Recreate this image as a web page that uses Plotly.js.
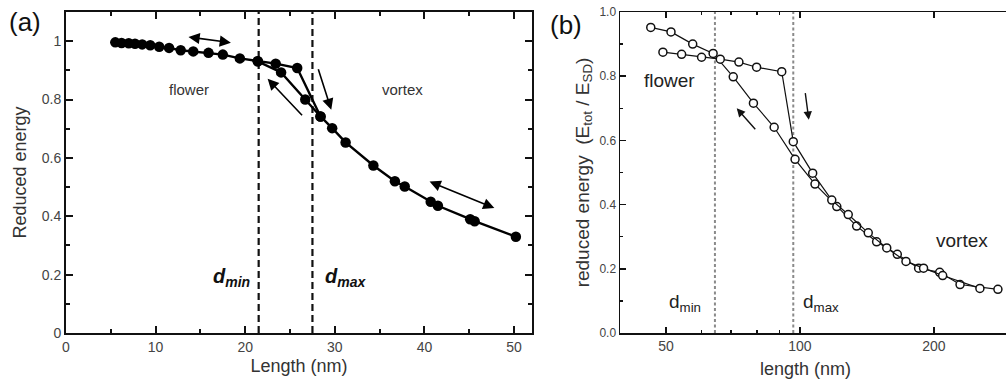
<!DOCTYPE html>
<html>
<head>
<meta charset="utf-8">
<script src="https://cdn.plot.ly/plotly-3.0.1.min.js"></script>
<style>
  html, body { margin: 0; padding: 0; background: #fff; }
  #chart { width: 1006px; height: 385px; }
</style>
</head>
<body>
<div id="chart"></div>
<script>
// ---- Panel (a): reduced energy vs particle length ----
// flower branch (increasing length), ends where it jumps onto the vortex curve
const flowerLenA = [5.5, 6.2, 7.0, 7.7, 8.5, 9.4, 10.4, 11.5, 12.8, 14.2, 15.9, 17.5, 19.4, 21.4, 23.4, 25.8, 28.4];
const flowerEnA  = [0.996, 0.994, 0.993, 0.991, 0.989, 0.986, 0.981, 0.977, 0.969, 0.965, 0.960, 0.954, 0.941, 0.931, 0.923, 0.908, 0.742];
// vortex branch (decreasing length), rejoins the flower curve at d_min
const vortexLenA = [21.4, 24.0, 26.7, 28.4, 29.7, 31.2, 34.3, 36.7, 37.8, 40.7, 41.5, 45.1, 45.6, 50.2];
const vortexEnA  = [0.931, 0.893, 0.800, 0.742, 0.702, 0.653, 0.574, 0.520, 0.502, 0.450, 0.436, 0.390, 0.383, 0.330];
const dLinesA = [21.5, 27.5];          // d_min, d_max (nm)
const yTopA = 1.1;

// ---- Panel (b): reduced energy (E_tot / E_SD) vs length, log axis ----
const decLenB = [46.2, 51.3, 57.4, 63.8, 70.8, 78.6, 87.5, 97.5, 108.1, 121.0, 134.1, 148.7, 165.5, 184.8, 206.1, 229.0, 278.6];
const decEnB  = [0.952, 0.938, 0.900, 0.871, 0.798, 0.716, 0.641, 0.541, 0.464, 0.394, 0.333, 0.284, 0.245, 0.202, 0.189, 0.151, 0.136];
const incLenB = [49.2, 54.2, 60.1, 66.2, 72.9, 79.9, 91.0, 96.6, 106.8, 117.9, 128.4, 142.4, 156.7, 173.1, 189.6, 209.3, 253.8];
const incEnB  = [0.875, 0.868, 0.859, 0.853, 0.844, 0.828, 0.814, 0.596, 0.498, 0.414, 0.369, 0.312, 0.265, 0.223, 0.202, 0.179, 0.139];
const dLinesB = [64.4, 96.6];          // d_min, d_max (nm)
const yTopB = 1.0;
const xTicksB = [50, 100, 200];
const xMinorB = [60, 70, 80, 90];

// arrows: [tailX, tailY, headX, headY, bothEnds]
const arrowsA = [
  [13.5, 1.015, 18.4, 0.995, true],
  [26.5, 0.741, 22.5, 0.871, false],
  [28.1, 0.909, 29.6, 0.765, false],
  [40.4, 0.521, 47.8, 0.428, true]
];
const arrowsB = [
  [79.9, 0.630, 72.1, 0.700],
  [102.7, 0.752, 104.7, 0.664]
];

const W = 1006, H = 385;
const FONT = 'Liberation Sans, Arial, Helvetica, sans-serif';
const px = v => v / W;
const py = v => (H - v) / H;

const traces = [];
// dashed guide lines
dLinesA.forEach(d => traces.push({
  x: [d, d], y: [0, yTopA], xaxis: 'x', yaxis: 'y', mode: 'lines',
  line: { color: '#111', width: 2.2, dash: '7px,4px' }, hoverinfo: 'skip'
}));
dLinesB.forEach(d => traces.push({
  x: [d, d], y: [0, yTopB], xaxis: 'x2', yaxis: 'y2', mode: 'lines',
  line: { color: '#8a8a8a', width: 2, dash: '3px,2.5px' }, hoverinfo: 'skip'
}));
// panel (a) curves
traces.push({
  x: flowerLenA, y: flowerEnA, xaxis: 'x', yaxis: 'y', mode: 'lines+markers',
  line: { color: '#000', width: 2.4 },
  marker: { color: '#000', size: 10.5, symbol: 'circle' }
});
traces.push({
  x: vortexLenA, y: vortexEnA, xaxis: 'x', yaxis: 'y', mode: 'lines+markers',
  line: { color: '#000', width: 2.4 },
  marker: { color: '#000', size: 10.5, symbol: 'circle' }
});
// panel (b) curves
[[decLenB, decEnB], [incLenB, incEnB]].forEach(([xs, ys]) => traces.push({
  x: xs, y: ys, xaxis: 'x2', yaxis: 'y2', mode: 'lines+markers',
  line: { color: '#111', width: 1.2 },
  marker: { color: '#fff', size: 8, symbol: 'circle', line: { color: '#111', width: 1.5 } }
}));

const annotations = [];
arrowsA.forEach(([tx, ty, hx, hy, both]) => annotations.push({
  xref: 'x', yref: 'y', axref: 'x', ayref: 'y',
  x: hx, y: hy, ax: tx, ay: ty, text: '', showarrow: true,
  arrowhead: 2, arrowsize: 1.4, arrowwidth: 1.6, arrowcolor: '#000',
  arrowside: both ? 'end+start' : 'end', standoff: 0, startstandoff: 0
}));
arrowsB.forEach(([tx, ty, hx, hy]) => annotations.push({
  xref: 'x2', yref: 'y2', axref: 'x2', ayref: 'y2',
  x: Math.log10(hx), y: hy, ax: Math.log10(tx), ay: ty, text: '', showarrow: true,
  arrowhead: 2, arrowsize: 1.2, arrowwidth: 1.4, arrowcolor: '#111', standoff: 0
}));
const txt = (o) => Object.assign({ showarrow: false, xanchor: 'center', yanchor: 'middle',
  font: { family: FONT, size: 15, color: '#333' } }, o);
annotations.push(
  txt({ xref: 'x', yref: 'y', x: 13.7, y: 0.833, text: 'flower' }),
  txt({ xref: 'x', yref: 'y', x: 37.6, y: 0.833, text: 'vortex' }),
  txt({ xref: 'x', yref: 'y', x: 20.8, y: 0.19, xanchor: 'right', text: '<b><i>d<sub>min</sub></i></b>', font: { family: FONT, size: 20, color: '#111' } }),
  txt({ xref: 'x', yref: 'y', x: 28.7, y: 0.19, xanchor: 'left', text: '<b><i>d<sub>max</sub></i></b>', font: { family: FONT, size: 20, color: '#111' } }),
  txt({ xref: 'x2', yref: 'y2', x: Math.log10(51.0), y: 0.788, text: 'flower', font: { family: FONT, size: 19, color: '#222' } }),
  txt({ xref: 'x2', yref: 'y2', x: Math.log10(231.8), y: 0.288, text: 'vortex', font: { family: FONT, size: 19, color: '#222' } }),
  txt({ xref: 'x2', yref: 'y2', x: Math.log10(60.6), y: 0.095, xanchor: 'right', text: 'd<sub>min</sub>', font: { family: FONT, size: 19, color: '#222' } }),
  txt({ xref: 'x2', yref: 'y2', x: Math.log10(100.6), y: 0.095, xanchor: 'left', text: 'd<sub>max</sub>', font: { family: FONT, size: 19, color: '#222' } }),
  txt({ xref: 'paper', yref: 'paper', x: px(25), y: py(22), text: '(a)', font: { family: FONT, size: 26, color: '#111' } }),
  txt({ xref: 'paper', yref: 'paper', x: px(566), y: py(25), text: '(b)', font: { family: FONT, size: 26, color: '#111' } }),
  txt({ xref: 'paper', yref: 'paper', x: px(805), y: py(369), text: 'length (nm)', font: { family: FONT, size: 18, color: '#333' } })
);

const tickStyle = { ticks: 'inside', showline: true, zeroline: false, showgrid: false, color: '#111' };
const layout = {
  width: W, height: H,
  margin: { l: 0, r: 0, t: 0, b: 0 },
  paper_bgcolor: '#fff', plot_bgcolor: '#fff',
  showlegend: false,
  font: { family: FONT, color: '#333' },
  xaxis: Object.assign({}, tickStyle, {
    domain: [px(66), px(532)], range: [0, 52], dtick: 10, tick0: 0,
    ticklen: 7, tickwidth: 2, linewidth: 2, linecolor: '#111', mirror: 'ticks',
    minor: { dtick: 5, ticks: 'inside', ticklen: 4, tickwidth: 2, tickcolor: '#111' },
    tickfont: { family: FONT, size: 14, color: '#444' },
    title: { text: 'Length (nm)', font: { family: FONT, size: 18, color: '#333' }, standoff: 6 },
    anchor: 'y'
  }),
  yaxis: Object.assign({}, tickStyle, {
    domain: [(H - 333) / H, (H - 12) / H], range: [0, yTopA], dtick: 0.2, tick0: 0,
    ticklen: 7, tickwidth: 2, linewidth: 2, linecolor: '#111', mirror: 'ticks',
    minor: { dtick: 0.1, ticks: 'inside', ticklen: 4, tickwidth: 2, tickcolor: '#111' },
    tickfont: { family: FONT, size: 14, color: '#444' },
    title: { text: 'Reduced energy', font: { family: FONT, size: 18, color: '#333' }, standoff: 10 },
    anchor: 'x'
  }),
  xaxis2: Object.assign({}, tickStyle, {
    type: 'log', domain: [px(620), 1], range: [Math.log10(39.4), Math.log10(290.5)],
    tickmode: 'array', tickvals: xTicksB, ticktext: xTicksB.map(String),
    ticklen: 6, tickwidth: 1.5, linewidth: 1.5, linecolor: '#111', mirror: 'ticks',
    minor: { tickmode: 'array', tickvals: xMinorB, ticks: 'inside', ticklen: 3, tickwidth: 1.5, tickcolor: '#111' },
    tickfont: { family: FONT, size: 14, color: '#444' },
    anchor: 'y2'
  }),
  yaxis2: Object.assign({}, tickStyle, {
    domain: [(H - 333) / H, (H - 12) / H], range: [0, yTopB], dtick: 0.2, tick0: 0, tickformat: '.1f',
    ticklen: 6, tickwidth: 1.5, linewidth: 1.5, linecolor: '#111', mirror: false,
    minor: { dtick: 0.1, ticks: 'inside', ticklen: 3, tickwidth: 1.5, tickcolor: '#111' },
    tickfont: { family: FONT, size: 12, color: '#444' },
    title: { text: 'reduced energy  (E<sub>tot</sub> / E<sub>SD</sub>)', font: { family: FONT, size: 19, color: '#333' }, standoff: 5 },
    anchor: 'x2'
  }),
  annotations: annotations
};

Plotly.newPlot('chart', traces, layout, { staticPlot: true, displayModeBar: false });
</script>
</body>
</html>
